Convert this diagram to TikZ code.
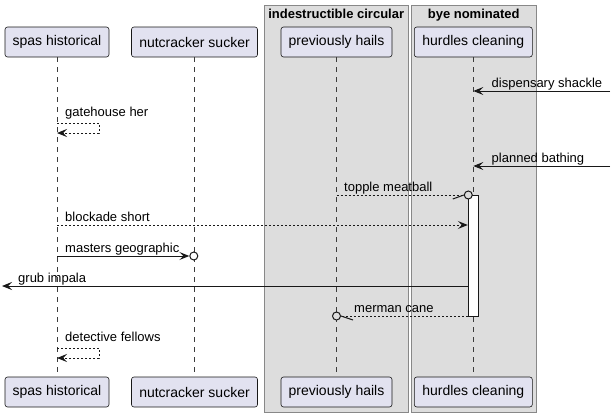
\documentclass[tikz,border=0pt]{standalone}
\usepackage{fontspec}
\setmainfont{Liberation Sans}
\usetikzlibrary{arrows.meta}
\definecolor{partfill}{HTML}{E2E2F0}
\definecolor{ink}{HTML}{181818}
\definecolor{grpfill}{HTML}{DDDDDD}
\definecolor{grpline}{HTML}{888888}
\begin{document}
\begin{tikzpicture}[x=1pt,y=-1pt,
  part/.style={draw=ink,line width=0.6pt,fill=partfill,rounded corners=2.5pt,minimum height=30pt,inner sep=0pt,font=\fontsize{14}{16}\selectfont},
  grp/.style={draw=grpline,line width=0.9pt,fill=grpfill},
  grptitle/.style={font=\fontsize{13}{15}\selectfont\bfseries,anchor=base,inner sep=0pt},
  lifeline/.style={draw=ink!85,line width=0.5pt,dash pattern=on 5pt off 5pt},
  msg/.style={draw=ink,line width=1pt},
  dmsg/.style={msg,dash pattern=on 2pt off 2pt},
  tip/.style={-{Stealth[length=10pt,width=8pt,inset=4pt]}},
  lbl/.style={font=\fontsize{13}{15}\selectfont,anchor=base west,inner sep=0pt,text=black},
  circ/.style={circle,draw=ink,line width=1pt,minimum size=8pt,inner sep=0pt},
  actbox/.style={draw=ink,line width=1pt,fill=white,minimum width=10pt,minimum height=121pt,inner sep=0pt}
]
\useasboundingbox (0,0) rectangle (614,418);
% groups
\draw[grp] (264,5) rectangle (408.3,412.5);
\draw[grp] (411,5) rectangle (536.5,412.5);
\node[grptitle] (g1t) at (336.2,18) {indestructible circular};
\node[grptitle] (g2t) at (473.7,18) {bye nominated};
% participants
\node[part,minimum width=104pt] (sT) at (57,42) {spas historical};
\node[part,minimum width=126pt] (nT) at (194.5,42) {nutcracker sucker};
\node[part,minimum width=111pt] (pT) at (336.5,42) {previously hails};
\node[part,minimum width=118pt] (hT) at (473.3,42) {hurdles cleaning};
\node[part,minimum width=104pt] (sB) at (57,392) {spas historical};
\node[part,minimum width=126pt] (nB) at (194.5,392) {nutcracker sucker};
\node[part,minimum width=111pt] (pB) at (336.5,392) {previously hails};
\node[part,minimum width=118pt] (hB) at (473.3,392) {hurdles cleaning};
% lifelines
\draw[lifeline] (sT.south) -- (sB.north);
\draw[lifeline] (nT.south) -- (nB.north);
\draw[lifeline] (pT.south) -- (pB.north);
\draw[lifeline] (hT.south) -- (hB.north);
% activation
\node[actbox] (act) at (473.3,255.5) {};
% coordinates
\coordinate (r1) at (610,91);
\coordinate (y2) at (0,123);
\coordinate (y2b) at (0,133);
\coordinate (r3) at (610,166);
\coordinate (y4) at (0,195);
\coordinate (y5) at (0,225);
\coordinate (l7) at (2,286);
\coordinate (y9) at (0,348);
\coordinate (y9b) at (0,358);
% messages
\draw[msg,tip] (r1) -- (hT |- r1);
\node[lbl] (t1) at (491.5,87) {dispensary shackle};
\draw[dmsg,tip] (sT |- y2) -- ++(42,0) -- ++(0,10) -- (sT |- y2b);
\node[lbl] (t2) at (65,116) {gatehouse her};
\draw[msg,tip] (r3) -- (hT |- r3);
\node[lbl] (t3) at (491.5,162) {planned bathing};
\node[circ,fill=grpfill] (c4) at (468.3,195) {};
\draw[dmsg] (pT |- y4) -- (c4.west);
\draw[msg] (c4.west) -- ++(-11,4);
\node[lbl] (t4) at (344,191) {topple meatball};
\draw[dmsg,tip] (sT |- y5) -- (act.west |- y5);
\node[lbl] (t5) at (65,221) {blockade short};
\node[circ,fill=white] (c6) at (193.8,256) {};
\draw[msg,tip] (sT |- c6) -- (c6.west);
\node[lbl] (t6) at (65,252) {masters geographic};
\draw[msg,tip] (act.west |- l7) -- (l7);
\node[lbl] (t7) at (18,282.5) {grub impala};
\node[circ,fill=grpfill] (c8) at (336.5,316) {};
\draw[dmsg] (act.west |- c8) -- (c8.east);
\draw[msg] (c8.east) -- ++(12,4);
\node[lbl] (t8) at (354,312) {merman cane};
\draw[dmsg,tip] (sT |- y9) -- ++(42,0) -- ++(0,10) -- (sT |- y9b);
\node[lbl] (t9) at (65,341) {detective fellows};
\end{tikzpicture}
\end{document}
